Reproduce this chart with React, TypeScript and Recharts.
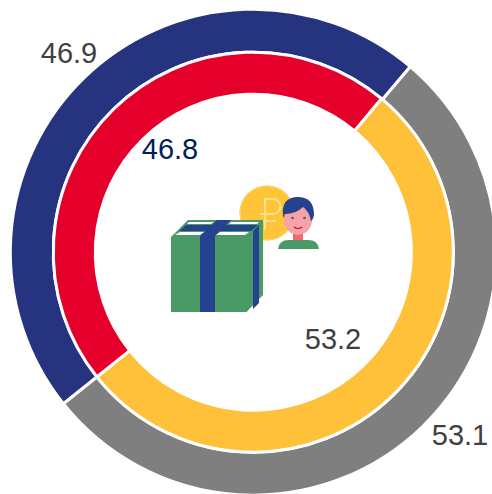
import { PieChart, Pie, Cell } from "recharts";

// Outer ring
const outerNames = ["A", "B"];
const outerValues = [46.9, 53.1];
const outerColors = ["#26337F", "#7F7F7F"];

// Inner ring
const innerNames = ["A", "B"];
const innerValues = [46.8, 53.2];
const innerColors = ["#E4002B", "#FFC03A"];

const outerData = outerNames.map((name, i) => ({ name, value: outerValues[i] }));
const innerData = innerNames.map((name, i) => ({ name, value: innerValues[i] }));

const labelStyle = { fontFamily: "'Liberation Sans', Arial, sans-serif", fontSize: 29 };

// Small picture in the middle of the rings
function CenterIcon() {
  return (
    <g>
      {/* coin */}
      <circle cx={267} cy={213} r={27.5} fill="#FDC537" />
      <circle cx={267} cy={213} r={27} fill="none" stroke="#FFD86E" strokeWidth={1} />
      <path
        d="M265 230 V199 H273 a7.5 7.5 0 0 1 0 15 H260 M260 221 H276"
        fill="none"
        stroke="#FFE08F"
        strokeWidth={2}
      />
      {/* person */}
      <path d="M278 249 q1 -9 11 -9 h19 q10 0 11 9 z" fill="#4A9A68" />
      <rect x={293} y={232} width={10} height={8} fill="#F0696E" />
      <ellipse cx={298} cy={220} rx={14} ry={15} fill="#F6A3A8" />
      <path
        d="M283 216 q-2 -19 15 -19 q16 0 16 18 q-1 5 -3 6 q-2 -10 -8 -14 q-7 7 -18 7 q-1 1 -1 4 z"
        fill="#26418F"
      />
      <circle cx={292.5} cy={218} r={1.3} fill="#3A5AA0" />
      <circle cx={304.5} cy={218} r={1.3} fill="#3A5AA0" />
      <path d="M294 227 q4 3 8 0" fill="none" stroke="#E4002B" strokeWidth={1.2} />
      {/* box */}
      <path d="M171 237 L188 220 H263 V295 L246.5 312 H171 z" fill="#4A9A68" />
      {/* wrapping band */}
      <rect x={200} y={236} width={15} height={76} fill="#26418F" />
      <path d="M179 231 L186 225 H258 L251 231 z" fill="#26418F" />
      <path d="M200 236 L217 220 H231 L215 236 z" fill="#26418F" />
      <path d="M253 231 L259 225 V303 L253 309 z" fill="#26418F" />
      {/* paper showing on top */}
      <path d="M187 224 L189 222 H214 L211 224 z" fill="#FFFFFF" />
      <path d="M229 224 L231 222 H259 L257 224 z" fill="#FFFFFF" />
      <path d="M175 235 L180 232 H204 L200 235 z" fill="#FFFFFF" />
      <path d="M216 235 L220 232 H249 L245 235 z" fill="#FFFFFF" />
    </g>
  );
}

export default function App() {
  return (
    <div style={{ position: "absolute", left: 0, top: 0, width: 492, height: 494 }}>
      <PieChart width={492} height={494} margin={{ top: 0, right: 0, bottom: 0, left: 0 }}>
        <Pie
          data={outerData}
          dataKey="value"
          cx={253.3}
          cy={252.2}
          outerRadius={243}
          innerRadius={200}
          startAngle={-141.4}
          endAngle={-501.4}
          stroke="#FFFFFF"
          strokeWidth={3}
          isAnimationActive={false}
        >
          {outerData.map((d, i) => (
            <Cell key={d.name} fill={outerColors[i]} />
          ))}
        </Pie>
        <Pie
          data={innerData}
          dataKey="value"
          cx={253.3}
          cy={252.2}
          outerRadius={200}
          innerRadius={158}
          startAngle={-141.4}
          endAngle={-501.4}
          stroke="#FFFFFF"
          strokeWidth={3}
          isAnimationActive={false}
        >
          {innerData.map((d, i) => (
            <Cell key={d.name} fill={innerColors[i]} />
          ))}
        </Pie>
      </PieChart>
      <svg width={492} height={494} style={{ position: "absolute", left: 0, top: 0 }}>
        <CenterIcon />
        <text x={69} y={55} textAnchor="middle" dominantBaseline="middle" fill="#404040" style={labelStyle}>
          {outerValues[0]}
        </text>
        <text x={460} y={437} textAnchor="middle" dominantBaseline="middle" fill="#404040" style={labelStyle}>
          {outerValues[1]}
        </text>
        <text x={170} y={151} textAnchor="middle" dominantBaseline="middle" fill="#002060" style={labelStyle}>
          {innerValues[0]}
        </text>
        <text x={333} y={341} textAnchor="middle" dominantBaseline="middle" fill="#404040" style={labelStyle}>
          {innerValues[1]}
        </text>
      </svg>
    </div>
  );
}
